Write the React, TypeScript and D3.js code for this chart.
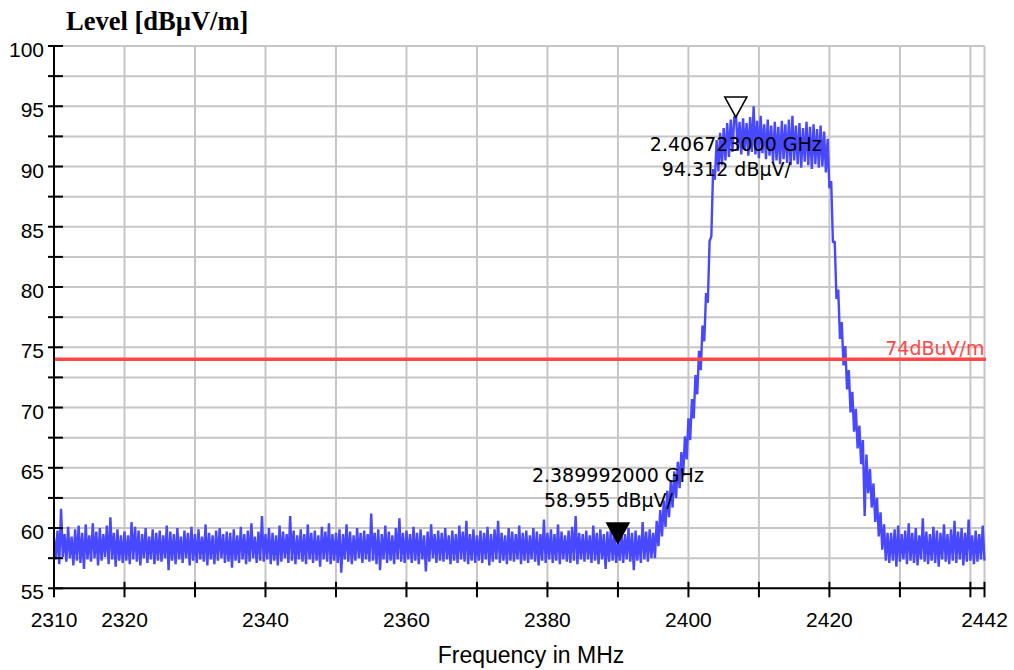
import React, { useEffect } from "react";
import * as d3 from "d3";

// Sweep settings of the spectrum plot
const FREQ_MIN = 2310;
const FREQ_MAX = 2442;
const LEVEL_MIN = 55;
const LEVEL_MAX = 100;
const SWEEP_STEP = 0.25; // MHz between trace samples

const xTickValues = [2310, 2320, 2330, 2340, 2350, 2360, 2370, 2380, 2390, 2400, 2410, 2420, 2430, 2440, 2442];
const xTickLabels = [2310, 2320, 2340, 2360, 2380, 2400, 2420, 2442];
const yTickValues = [55, 57.5, 60, 62.5, 65, 67.5, 70, 72.5, 75, 77.5, 80, 82.5, 85, 87.5, 90, 92.5, 95, 97.5, 100];
const yTickLabels = [55, 60, 65, 70, 75, 80, 85, 90, 95, 100];

const limitLevel = 74;
const limitLabel = "74dBuV/m";

// Measured trace, dBµV/m, one value every SWEEP_STEP MHz
// 2310.00 .. 2394.75 MHz: noise floor below the channel
const noiseBelowChannel = [
  59.2, 57.4, 59.8, 57.0, 61.6, 57.6, 59.5, 57.2, 60.1, 57.5, 59.3, 56.9, 59.9, 57.3, 60.2, 57.1, 59.6, 56.6, 60.3, 57.4,
  59.4, 57.2, 60.4, 57.5, 59.7, 56.9, 60.0, 57.3, 59.5, 57.6, 60.2, 57.0, 60.9, 57.4, 59.6, 56.8, 59.9, 57.3, 59.4, 57.1,
  59.7, 57.3, 59.4, 57.0, 60.5, 57.4, 60.1, 57.2, 59.8, 56.9, 59.5, 57.5, 60.0, 57.1, 59.3, 57.4, 59.9, 57.0, 59.6, 57.3,
  59.8, 57.2, 59.4, 57.5, 60.2, 56.5, 59.7, 57.3, 59.5, 57.0, 60.0, 57.4, 59.3, 57.1, 59.8, 57.5, 59.6, 56.9, 60.1, 57.3,
  59.5, 57.1, 59.9, 57.4, 59.3, 57.2, 60.3, 56.9, 59.6, 57.4, 59.4, 57.0, 59.8, 57.3, 60.0, 57.5, 59.5, 57.1, 59.7, 57.2,
  59.6, 56.7, 59.9, 57.3, 59.4, 57.1, 60.1, 57.4, 59.5, 57.0, 59.8, 57.2, 60.4, 57.5, 59.3, 57.1, 59.7, 57.3, 61.0, 57.2,
  59.5, 57.4, 60.0, 57.0, 59.6, 57.3, 59.4, 56.9, 60.2, 57.2, 59.7, 57.5, 59.5, 57.1, 61.0, 57.3, 59.8, 57.0, 59.4, 57.4,
  59.9, 57.2, 59.5, 57.0, 60.3, 57.4, 59.6, 57.1, 59.8, 57.3, 59.4, 56.8, 60.1, 57.4, 59.7, 57.2, 60.4, 57.0, 59.5, 57.3,
  59.6, 57.1, 59.9, 56.3, 59.5, 57.4, 60.3, 57.2, 59.7, 57.0, 59.4, 57.3, 60.0, 57.5, 59.6, 57.1, 59.8, 57.4, 59.5, 57.2,
  61.2, 57.3, 59.6, 57.0, 59.9, 56.5, 59.5, 57.4, 60.2, 57.1, 59.7, 57.3, 59.4, 57.0, 60.0, 57.4, 60.8, 57.2, 59.6, 57.1,
  59.8, 57.4, 59.5, 57.1, 60.1, 57.3, 59.6, 57.0, 59.9, 57.4, 59.4, 56.4, 59.7, 57.2, 60.3, 57.5, 59.5, 57.1, 59.8, 57.3,
  59.6, 57.2, 60.0, 57.4, 59.4, 57.0, 59.8, 57.3, 59.5, 57.1, 60.2, 57.4, 59.7, 57.2, 60.6, 57.0, 59.5, 57.3, 59.9, 57.1,
  59.4, 57.3, 59.8, 57.1, 59.6, 57.4, 60.1, 56.9, 59.5, 57.2, 59.9, 57.4, 60.6, 57.1, 59.6, 57.3, 59.4, 57.0, 60.0, 57.3,
  59.7, 57.2, 59.5, 57.4, 60.2, 57.0, 59.6, 57.3, 59.8, 57.1, 59.4, 57.4, 60.0, 57.2, 59.7, 56.9, 59.5, 57.3, 60.7, 57.1,
  59.6, 57.4, 59.9, 57.1, 59.5, 57.3, 60.3, 57.0, 59.7, 57.4, 59.4, 57.2, 59.8, 57.1, 60.1, 57.3, 61.0, 57.0, 59.6, 57.4,
  59.5, 57.2, 59.8, 57.4, 59.4, 57.1, 60.2, 57.3, 59.6, 57.0, 59.9, 57.4, 59.5, 56.6, 59.7, 57.2, 60.0, 57.3, 59.5, 57.1,
  58.96, 57.3, 59.7, 57.1, 59.5, 57.4, 60.0, 57.2, 59.6, 56.5, 59.8, 57.3, 59.4, 57.1, 60.5, 57.4, 59.7, 57.2, 59.9, 57.5,
];

// 2395.00 .. 2403.75 MHz: lower channel edge
const risingEdge = [
  59.6, 57.5, 60.6, 58.5, 61.5, 59.3, 62.3, 60.1, 63.1, 60.9, 63.9, 61.7,
  64.7, 62.5, 65.5, 63.3, 66.3, 64.3, 67.6, 65.7, 69.1, 67.3, 70.7, 69.1,
  72.7, 71.1, 74.7, 73.1, 76.8, 75.5, 79.5, 78.7, 83.8, 84.2, 89.8, 88.9,
];

// 2404.00 .. 2419.50 MHz: occupied channel
const channelTop = [
  92.2, 89.6, 92.8, 90.1, 93.2, 90.5, 93.6, 90.8, 93.9, 91.2, 94.1, 94.312, 91.3,
  93.7, 91.0, 94.0, 91.4, 93.6, 90.9, 94.1, 91.2, 95.0, 91.0, 93.8, 90.7, 94.2,
  91.1, 93.5, 90.6, 93.9, 90.9, 93.4, 90.3, 93.7, 90.5, 93.3, 90.2, 93.8, 90.6,
  93.5, 90.3, 93.9, 90.1, 94.2, 90.5, 93.4, 90.2, 93.6, 89.9, 93.2, 90.4, 93.7,
  90.1, 93.3, 89.8, 93.5, 90.2, 93.1, 89.9, 93.4, 90.0, 92.9, 89.5,
];

// 2419.75 .. 2428.25 MHz: upper channel edge
const fallingEdge = [
  92.3, 88.2, 88.8, 83.7, 83.8, 79.0, 79.8, 75.7, 77.1, 73.5, 75.1, 71.5,
  73.1, 69.6, 71.3, 68.0, 69.9, 66.6, 68.5, 65.3, 67.3, 61.0, 66.1, 62.9,
  64.9, 61.7, 63.7, 60.5, 62.5, 59.3, 61.3, 58.2, 60.3, 57.3, 59.6,
];

// 2428.50 .. 2442.00 MHz: noise floor above the channel
const noiseAboveChannel = [
  57.1, 59.6, 57.3, 59.9, 56.8, 60.2, 57.2, 59.5, 57.4, 59.8, 57.0, 60.4, 57.3, 59.6, 57.1, 60.0, 56.9, 59.4, 57.4, 60.8,
  57.2, 59.7, 57.0, 59.5, 57.3, 60.1, 57.1, 59.8, 56.8, 59.6, 57.4, 60.3, 57.2, 59.5, 57.0, 59.9, 57.3, 60.6, 57.1, 59.7,
  57.4, 60.0, 56.9, 59.6, 57.2, 60.7, 57.3, 59.4, 57.0, 59.8, 57.2, 59.5, 57.4, 60.2, 57.3,
];

const traceSegments = [
  { start: 2310, levels: noiseBelowChannel },
  { start: 2395, levels: risingEdge },
  { start: 2404, levels: channelTop },
  { start: 2419.75, levels: fallingEdge },
  { start: 2428.5, levels: noiseAboveChannel },
];

// Markers: peak of the channel and the band-edge reading
const markers = [
  { freq: 2406.723, freqText: "2.406723000", level: 94.312, filled: false },
  { freq: 2389.992, freqText: "2.389992000", level: 58.955, filled: true },
];

const WIDTH = 1014;
const HEIGHT = 670;
const PLOT = { left: 54, right: 984.5, top: 46, bottom: 588.3 };

const TRACE_COLOR = "#4848ff";
const LIMIT_COLOR = "#ff4747";
const GRID_COLOR = "#c6c6c6";
const TICK_FONT = "'Liberation Sans', Arial, sans-serif";
const MARKER_FONT = "'DejaVu Sans', Verdana, sans-serif";

export default function App() {
  useEffect(() => {
    document.body.style.margin = "0";
  }, []);

  const x = d3.scaleLinear().domain([FREQ_MIN, FREQ_MAX]).range([PLOT.left, PLOT.right]);
  const y = d3.scaleLinear().domain([LEVEL_MIN, LEVEL_MAX]).range([PLOT.bottom, PLOT.top]);

  const tracePoints: [number, number][] = [];
  traceSegments.forEach((seg) => {
    seg.levels.forEach((v, i) => {
      tracePoints.push([seg.start + i * SWEEP_STEP, v]);
    });
  });

  const line = d3
    .line<[number, number]>()
    .x((d) => x(d[0]))
    .y((d) => y(d[1]));

  const triW = 11;
  const triH = 20;

  return (
    <svg width={WIDTH} height={HEIGHT} style={{ display: "block", background: "#fff" }}>
      {/* grid */}
      <g stroke={GRID_COLOR} strokeWidth={2}>
        {yTickValues.map((v) => (
          <line key={`gy${v}`} x1={PLOT.left} x2={PLOT.right} y1={y(v)} y2={y(v)} />
        ))}
        {xTickValues.map((v) => (
          <line key={`gx${v}`} x1={x(v)} x2={x(v)} y1={PLOT.top} y2={PLOT.bottom} />
        ))}
      </g>

      {/* measured trace */}
      <path
        d={line(tracePoints) || ""}
        fill="none"
        stroke={TRACE_COLOR}
        strokeWidth={2.4}
        strokeLinejoin="bevel"
      />

      {/* limit line */}
      <line
        x1={PLOT.left}
        x2={PLOT.right + 1.5}
        y1={y(limitLevel)}
        y2={y(limitLevel)}
        stroke={LIMIT_COLOR}
        strokeWidth={3.5}
      />
      <text
        x={PLOT.right}
        y={y(limitLevel) - 4}
        textAnchor="end"
        fontFamily={MARKER_FONT}
        fontSize={19}
        fill={LIMIT_COLOR}
      >
        {limitLabel}
      </text>

      {/* axes */}
      <g stroke="#000" strokeWidth={2}>
        <line x1={PLOT.left} x2={PLOT.left} y1={PLOT.top} y2={PLOT.bottom} />
        <line x1={PLOT.left} x2={PLOT.right} y1={PLOT.bottom} y2={PLOT.bottom} />
        {yTickValues.map((v) => (
          <line key={`ty${v}`} x1={PLOT.left - 6} x2={PLOT.left + 9} y1={y(v)} y2={y(v)} />
        ))}
        {xTickValues.map((v) => (
          <line key={`tx${v}`} x1={x(v)} x2={x(v)} y1={PLOT.bottom - 6.5} y2={PLOT.bottom + 9} />
        ))}
      </g>

      {/* tick labels */}
      <g fontFamily={TICK_FONT} fontSize={21} fill="#000">
        {yTickLabels.map((v) => (
          <text key={`ly${v}`} x={PLOT.left - 10} y={y(v) + 11} textAnchor="end">
            {v}
          </text>
        ))}
        {xTickLabels.map((v) => (
          <text key={`lx${v}`} x={x(v)} y={627} textAnchor="middle">
            {v}
          </text>
        ))}
      </g>

      {/* axis titles */}
      <text
        x={66}
        y={30}
        fontFamily="'Liberation Serif', 'Times New Roman', serif"
        fontWeight="bold"
        fontSize={26.5}
        fill="#000"
      >
        Level [dBµV/m]
      </text>
      <text x={531} y={663} textAnchor="middle" fontFamily={TICK_FONT} fontSize={23} fill="#000">
        Frequency in MHz
      </text>

      {/* markers */}
      {markers.map((m) => {
        const mx = x(m.freq);
        const tip = y(m.level) + 2.5;
        const below = m.level > 90;
        const l1 = below ? tip + 34 : tip - 61;
        const l2 = l1 + 25;
        return (
          <g key={m.freqText}>
            <path
              d={`M${mx - triW},${tip - triH} L${mx + triW},${tip - triH} L${mx},${tip} Z`}
              fill={m.filled ? "#000" : "#fff"}
              stroke="#000"
              strokeWidth={1.6}
              strokeLinejoin="miter"
            />
            <g fontFamily={MARKER_FONT} fontSize={19} fill="#000">
              <text x={mx} y={l1} textAnchor="middle">
                {`${m.freqText} GHz`}
              </text>
              <text x={mx - 74} y={l2} textAnchor="start">
                {`${m.level.toFixed(3)} dBµV/`}
              </text>
            </g>
          </g>
        );
      })}
    </svg>
  );
}
